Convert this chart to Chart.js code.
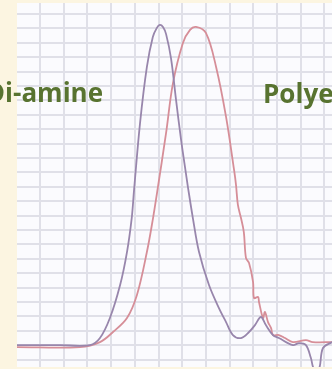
<!DOCTYPE html>
<html>
<head>
<meta charset="utf-8">
<script src="https://cdn.jsdelivr.net/npm/chart.js@4"></script>
<style>
  html, body { margin: 0; padding: 0; background: #fcf5e1; }
  #wrap { position: relative; width: 332px; height: 369px; }
</style>
</head>
<body>
<div id="wrap"><canvas id="gpcChart"></canvas></div>
<script>
// elution volume (grid units) and detector response (grid units)
const diamineX = [0.03, 1.84, 3.11, 3.53, 3.95, 4.38, 4.67, 4.87, 4.97, 5.22, 5.51, 5.76, 5.93, 6.05, 6.19, 6.32, 6.53, 6.74, 6.95, 7.16, 7.24, 7.45, 7.71, 8.13, 8.55, 8.85, 9.14, 9.48, 9.82, 10.07, 10.32, 10.53, 10.83, 11.08, 11.67, 11.93, 12.22, 12.43, 12.56, 12.77, 12.94, 13.32];
const diamineY = [1.01, 1.01, 1.01, 1.5, 2.89, 5.18, 7.47, 9.83, 11.8, 16.4, 20.32, 22.4, 23.03, 23.24, 23.1, 22.6, 20.9, 18.03, 15.3, 12.9, 12.0, 9.83, 7.47, 5.18, 3.58, 2.61, 1.71, 1.5, 1.92, 2.4, 2.96, 2.4, 1.71, 1.5, 1.01, 1.15, 1.01, 0.11, -0.65, -0.65, 0.81, 1.22];

const polyX = [0.03, 2.69, 3.53, 4.08, 4.67, 5.09, 5.51, 5.77, 5.94, 6.32, 6.61, 7.03, 7.33, 7.58, 8.0, 8.43, 8.85, 9.19, 9.27, 9.35, 9.48, 9.6, 9.69, 9.82, 9.99, 10.03, 10.2, 10.24, 10.41, 10.49, 10.62, 10.75, 10.83, 11.08, 11.34, 11.67, 12.22, 12.51, 13.32];
const polyY = [0.87, 0.87, 1.22, 1.92, 2.89, 4.49, 7.47, 9.83, 11.6, 15.74, 19.2, 21.99, 22.89, 23.1, 22.68, 20.32, 16.85, 13.15, 12.13, 10.74, 9.83, 8.86, 7.06, 6.71, 5.39, 4.28, 4.35, 4.0, 2.89, 3.31, 2.61, 2.19, 1.71, 1.71, 1.5, 1.22, 1.36, 1.22, 1.22];

const xTicks = [1, 2, 3, 4, 5, 6, 7, 8, 9, 10, 11, 12, 13];
const yTicks = [0, 1, 2, 3, 4, 5, 6, 7, 8, 9, 10, 11, 12, 13, 14, 15, 16, 17, 18, 19, 20, 21, 22, 23, 24];

const labels = [
    { text: "Di-amine", x: 3.66, y: 17.9, align: "right" },
    { text: "Polye", x: 10.41, y: 17.8, align: "left" },
];

const toPoints = (xs, ys) => xs.map((x, i) => ({ x: x, y: ys[i] }));

const plotBg = {
    id: "plotBg",
    beforeDraw(chart) {
        const { ctx, chartArea: a } = chart;
        ctx.save();
        ctx.fillStyle = "#fbfbfe";
        ctx.fillRect(a.left, a.top, a.right - a.left, a.bottom - a.top);
        ctx.restore();
    }
};

const textLabels = {
    id: "textLabels",
    afterDraw(chart) {
        const { ctx, scales } = chart;
        ctx.save();
        ctx.font = "bold 26px 'Open Sans'";
        ctx.fillStyle = "#587330";
        ctx.textBaseline = "alphabetic";
        labels.forEach(l => {
            ctx.textAlign = l.align;
            ctx.fillText(l.text, scales.x.getPixelForValue(l.x), scales.y.getPixelForValue(l.y));
        });
        ctx.restore();
    }
};

new Chart(document.getElementById("gpcChart"), {
    type: "line",
    data: {
        datasets: [{
            label: "Di-amine",
            data: toPoints(diamineX, diamineY),
            borderColor: "rgb(152, 134, 172)",
            borderWidth: 1.8,
            pointRadius: 0,
            tension: 0.35,
        }, {
            label: "Polyether",
            data: toPoints(polyX, polyY),
            borderColor: "rgb(214, 142, 152)",
            borderWidth: 1.8,
            pointRadius: 0,
            tension: 0.35,
        }],
    },
    options: {
        responsive: true,
        maintainAspectRatio: false,
        animation: false,
        layout: { padding: { left: 17, top: 3, right: 0, bottom: 2 } },
        plugins: { legend: { display: false }, tooltip: { enabled: false } },
        scales: {
            x: {
                type: "linear", min: 0.03, max: 13.32,
                afterBuildTicks: axis => { axis.ticks = xTicks.map(v => ({ value: v })); },
                ticks: { display: false },
                grid: { color: "rgb(224, 224, 232)", lineWidth: 2, drawTicks: false },
                border: { display: false },
            },
            y: {
                type: "linear", min: -0.51, max: 24.76,
                afterBuildTicks: axis => { axis.ticks = yTicks.map(v => ({ value: v })); },
                ticks: { display: false },
                grid: { color: "rgb(224, 224, 232)", lineWidth: 2, drawTicks: false },
                border: { display: false },
            },
        },
    },
    plugins: [plotBg, textLabels],
});
</script>
</body>
</html>
